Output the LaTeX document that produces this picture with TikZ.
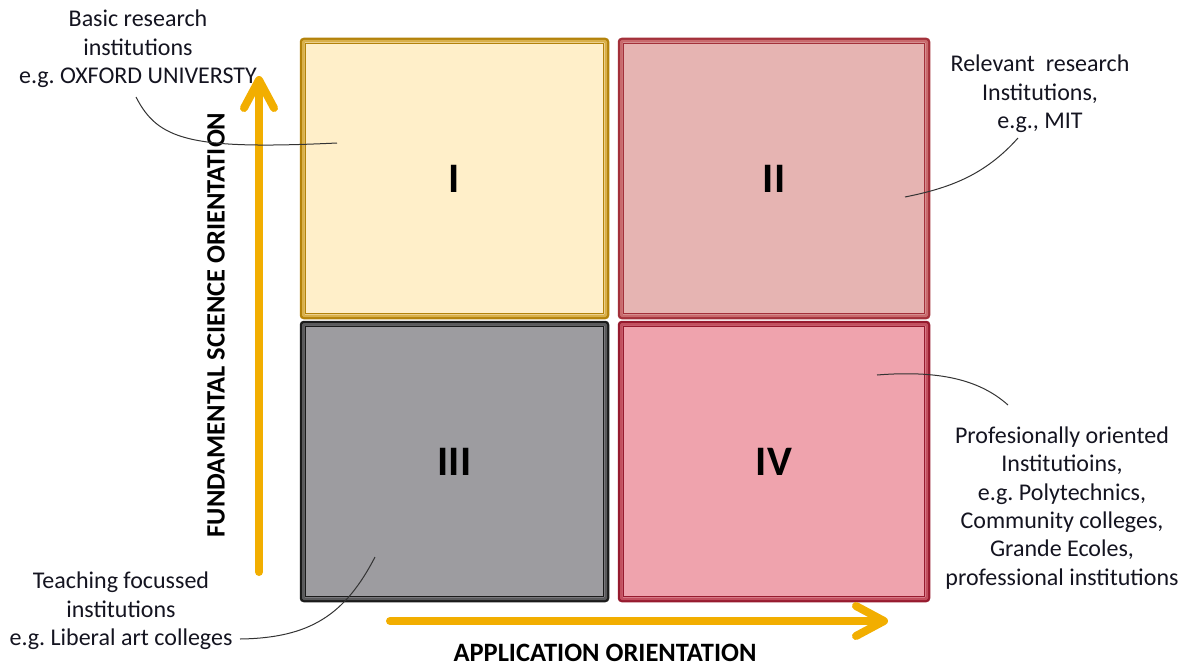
\documentclass[tikz,border=0pt]{standalone}
\usepackage{fontspec}
\setmainfont{Carlito}
\usetikzlibrary{arrows.meta}
\definecolor{qAfill}{HTML}{FFEFC9}\definecolor{qAline}{HTML}{B3820A}\definecolor{qAmid}{HTML}{D9B04A}
\definecolor{qBfill}{HTML}{E6B4B2}\definecolor{qBline}{HTML}{A3303A}\definecolor{qBmid}{HTML}{C96A6D}
\definecolor{qCfill}{HTML}{9D9CA0}\definecolor{qCline}{HTML}{1A1A1A}\definecolor{qCmid}{HTML}{5A5A5C}
\definecolor{qDfill}{HTML}{EFA3AD}\definecolor{qDline}{HTML}{961A2E}\definecolor{qDmid}{HTML}{C2505F}
\definecolor{axisc}{HTML}{F2AE00}
\definecolor{txtc}{HTML}{141420}
\definecolor{leadc}{HTML}{333333}
\frenchspacing
\begin{document}
\begin{tikzpicture}[x=1pt,y=-1pt,
  quad/.style={draw, line width=4.5pt, rounded corners=2pt, minimum height=277pt,
    inner sep=0pt, text=black, font=\fontsize{42}{50}\selectfont\bfseries},
  innerband/.style={line width=2.5pt, rounded corners=1pt},
  innerline/.style={line width=1pt},
  lbl/.style={align=center, text=txtc, font=\fontsize{24}{28.3}\selectfont, inner sep=0pt},
  axlbl/.style={text=black, font=\fontsize{26.5}{30}\selectfont\bfseries, inner sep=0pt},
  leader/.style={draw=leadc, line width=1pt},
  axis/.style={draw=axisc, line width=8pt, line cap=round,
    -{Straight Barb[length=28pt,width=30pt,round]}}]
\useasboundingbox (0,0) rectangle (1194,666);

% quadrants
\node[quad, minimum width=305pt, fill=qAfill, draw=qAline] (q1) at (454.5,178.5) {I};
\node[quad, minimum width=308pt, fill=qBfill, draw=qBline] (q2) at (774,178.5) {II};
\node[quad, minimum width=305pt, fill=qCfill, draw=qCline] (q3) at (454.5,461.5) {III};
\node[quad, minimum width=308pt, fill=qDfill, draw=qDline] (q4) at (774,461.5) {IV};

\foreach \q/\c in {q1/qA,q2/qB,q3/qC,q4/qD}{
  \draw[innerband, draw=\c mid] ([xshift=3.5pt,yshift=-3.5pt]\q.north west) rectangle ([xshift=-3.5pt,yshift=3.5pt]\q.south east);
  \draw[innerline, draw=\c line] ([xshift=5.5pt,yshift=-5.5pt]\q.north west) rectangle ([xshift=-5.5pt,yshift=5.5pt]\q.south east);
}

% axes
\coordinate (ya) at (259,572);
\coordinate (yb) at (259,76);
\draw[axis] (ya) -- (yb);
\coordinate (xa) at (390,621);
\coordinate (xb) at (888,621);
\draw[axis] (xa) -- (xb);

\node[axlbl, anchor=base] (xl) at (605,661) {APPLICATION ORIENTATION};
\node[axlbl, rotate=90] (yl) at (216,325) {FUNDAMENTAL SCIENCE ORIENTATION};

% labels
\node[lbl] (t1) at (138,49) {Basic research\\institutions\\e.g. OXFORD UNIVERSTY};
\node[lbl] (t2) at (1040,94) {Relevant\ \ research\\Institutions,\\e.g., MIT};
\node[lbl] (t3) at (121,611) {Teaching focussed\\institutions\\e.g. Liberal art colleges};
\node[lbl] (t4) at (1062,508) {Profesionally oriented\\Institutioins,\\e.g. Polytechnics,\\Community colleges,\\Grande Ecoles,\\professional institutions};

% leaders
\coordinate (l1a) at (136,97);  \coordinate (l1b) at (337,143);
\draw[leader] (l1a) .. controls (158,140) and (190,150) .. (l1b);
\coordinate (l2a) at (1018,138); \coordinate (l2b) at (905,197);
\draw[leader] (l2a) .. controls (985,175) and (950,188) .. (l2b);
\coordinate (l4a) at (877,375); \coordinate (l4b) at (1008,405);
\draw[leader] (l4a) .. controls (940,370) and (980,380) .. (l4b);
\coordinate (l3a) at (375,557); \coordinate (l3b) at (240,639);
\draw[leader] (l3a) .. controls (345,615) and (310,638) .. (l3b);
\end{tikzpicture}
\end{document}
